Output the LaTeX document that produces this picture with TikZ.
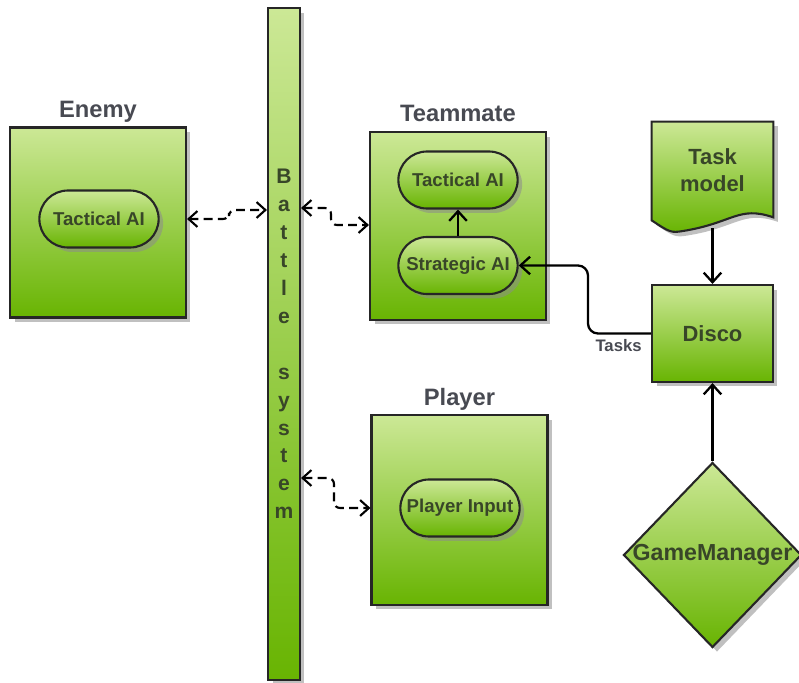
\documentclass[tikz,border=0pt]{standalone}
\usepackage{fontspec}
\setmainfont{Liberation Sans}
\usepackage{tikz}
\usetikzlibrary{arrows.meta, positioning, shapes.geometric, shapes.misc, shadows, calc}
\definecolor{greentop}{RGB}{204,232,150}
\definecolor{greenbot}{RGB}{104,180,2}
\definecolor{inkgreen}{RGB}{56,70,40}
\definecolor{inkgray}{RGB}{72,74,82}

\begin{document}
\begin{tikzpicture}[x=0.02cm, y=-0.02cm,
  box/.style={draw=black!85, line width=1.2pt, top color=greentop, bottom color=greenbot,
    drop shadow={shadow xshift=0.09cm, shadow yshift=-0.09cm, fill=black!45, opacity=0.55}},
  block/.style={box, minimum width=3.52cm, minimum height=3.8cm},
  pill/.style={box, rounded rectangle, minimum width=2.62cm, minimum height=1.14cm,
    font=\fontsize{10.6}{12}\selectfont\bfseries, text=inkgreen},
  title/.style={font=\fontsize{13.5}{16}\selectfont\bfseries, text=inkgray, inner sep=0pt},
  flow/.style={line width=1.3pt, -{Straight Barb[length=5.5pt,width=10pt]}},
  dlink/.style={line width=1.2pt, dash pattern=on 5pt off 3pt, rounded corners=0.12cm,
    {Straight Barb[length=5pt,width=9pt]}-{Straight Barb[length=5pt,width=9pt]}}]
\useasboundingbox (0,0) rectangle (799,683);

\node[box, minimum width=0.64cm, minimum height=13.44cm, align=center, inner sep=0pt,
  font=\fontsize{12}{15.9}\selectfont\bfseries, text=inkgreen] (battle) at (284,344)
  {B\\a\\t\\t\\l\\e\\\mbox{}\\s\\y\\s\\t\\e\\m};

\node[block] (enemy) at (98,222.5) {};
\node[title, above=0.18cm of enemy.north, anchor=base] (enemyt) {Enemy};
\node[pill] (etac) at (99,219) {Tactical AI};

\node[block, minimum height=3.76cm] (team) at (458,226) {};
\node[title, above=0.18cm of team.north, anchor=base] (teamt) {Teammate};
\node[pill] (ttac) at (458,180) {Tactical AI};
\node[pill] (strat) at (458,265.5) {Strategic AI};

\node[block] (player) at (459.5,510) {};
\node[title, above=0.16cm of player.north, anchor=base] (playert) {Player};
\node[pill] (pin) at (460,508) {Player Input};

\node[minimum width=2.42cm, minimum height=1.96cm, align=center, inner sep=0pt,
  font=\fontsize{12.5}{15.3}\selectfont\bfseries, text=inkgreen] (task) at (712.5,171) {};
\path[box] (task.south west) -- (task.north west) -- (task.north east) -- ([yshift=0.06cm]task.south east)
  .. controls +(-35,-12) and +(50,-8) .. (683,231) .. controls +(-12,2) and +(18,12) .. (task.south west) -- cycle;
\node[align=center, font=\fontsize{12.5}{15.3}\selectfont\bfseries, text=inkgreen] (tasktxt) at (712.5,170) {Task\\model};
\coordinate (taskfoot) at (712.5,228);

\node[box, minimum width=2.42cm, minimum height=1.94cm, font=\fontsize{12.5}{15}\selectfont\bfseries,
  text=inkgreen] (disco) at (712.5,333.5) {Disco};
\node[box, diamond, minimum width=3.56cm, minimum height=3.7cm, inner sep=0pt,
  font=\fontsize{13.2}{15}\selectfont\bfseries, text=inkgreen] (game) at (712.5,555) {\makebox[0pt]{GameManager}};

\draw[flow] (strat.north) -- (ttac.south);
\draw[flow] (taskfoot) -- (disco.north);
\draw[flow] (game.north) -- (disco.south);
\draw[flow, rounded corners=0.2cm] (disco.west) -| (588,265.5) -- (strat.east);
\node[font=\fontsize{9.5}{11}\selectfont\bfseries, text=inkgray, anchor=north east, inner sep=0pt]
  (tasks) at ([xshift=-0.18cm,yshift=-0.12cm]disco.west) {Tasks};

\draw[dlink] (etac.east -| enemy.east) -- (229,219) |- (battle.west |- 0,210);
\draw[dlink] (battle.east |- 0,208) -- (331,208) |- (team.west |- 0,225);
\draw[dlink] (battle.east |- 0,478) -- (334,478) |- (player.west |- pin.west);
\end{tikzpicture}
\end{document}
